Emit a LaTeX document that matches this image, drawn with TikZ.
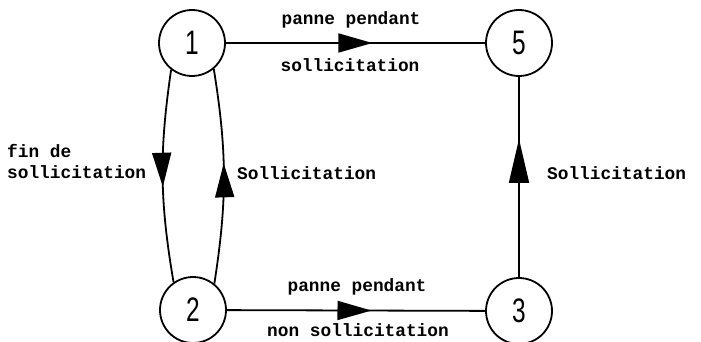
\documentclass[tikz,border=0pt]{standalone}
\usepackage{fontspec}
\setmainfont{Liberation Sans}
\newfontfamily\lblfont{Liberation Mono}[BoldFont={Liberation Mono Bold}]
\usetikzlibrary{arrows.meta,decorations.markings}
\tikzset{
  state/.style={circle,draw,line width=1.8pt,minimum size=66pt,inner sep=0pt,
    font=\fontsize{34}{34}\selectfont},
  edge/.style={line width=1.8pt},
  lbl/.style={font=\lblfont\bfseries\fontsize{17.8}{17.8}\selectfont,inner sep=0pt},
  midarrow/.style={postaction={decorate},decoration={markings,
    mark=at position #1 with {\arrow{Triangle[length=34pt,width=19pt]}}}},
  longarrow/.style={postaction={decorate},decoration={markings,
    mark=at position #1 with {\arrow{Triangle[length=44pt,width=20pt]}}}}
}
\newcommand{\digit}[1]{\scalebox{0.72}[1]{#1}}
\begin{document}
\begin{tikzpicture}[x=1pt,y=-1pt]
\useasboundingbox (0,0) rectangle (701,342);
\node[state] (n1) at (192,43) {\digit{1}};
\node[state] (n5) at (519,43) {\digit{5}};
\node[state] (n2) at (193,310) {\digit{2}};
\node[state] (n3) at (519,311) {\digit{3}};

\draw[edge,midarrow=0.565] (n1) -- (n5);
\draw[edge,midarrow=0.56] (n2) -- (n3);
\draw[edge,longarrow=0.69] (n3) -- (n5);
\draw[edge,midarrow=0.55] (n1.232) to[bend right=9] (n2.125);
\draw[edge,midarrow=0.56] (n2.51) to[bend right=9] (n1.310);

\node[lbl] (t1) at (351,20) {panne pendant};
\node[lbl] (t2) at (350,65) {sollicitation};
\node[lbl] (b1) at (357,287) {panne pendant};
\node[lbl] (b2) at (358,330) {non sollicitation};
\node[lbl,anchor=west] (l1) at (7,151) {fin de};
\node[lbl,anchor=west] (l2) at (7,172) {sollicitation};
\node[lbl,anchor=west] (r1) at (237,173) {Sollicitation};
\node[lbl,anchor=west] (r2) at (547,173) {Sollicitation};
\end{tikzpicture}
\end{document}
